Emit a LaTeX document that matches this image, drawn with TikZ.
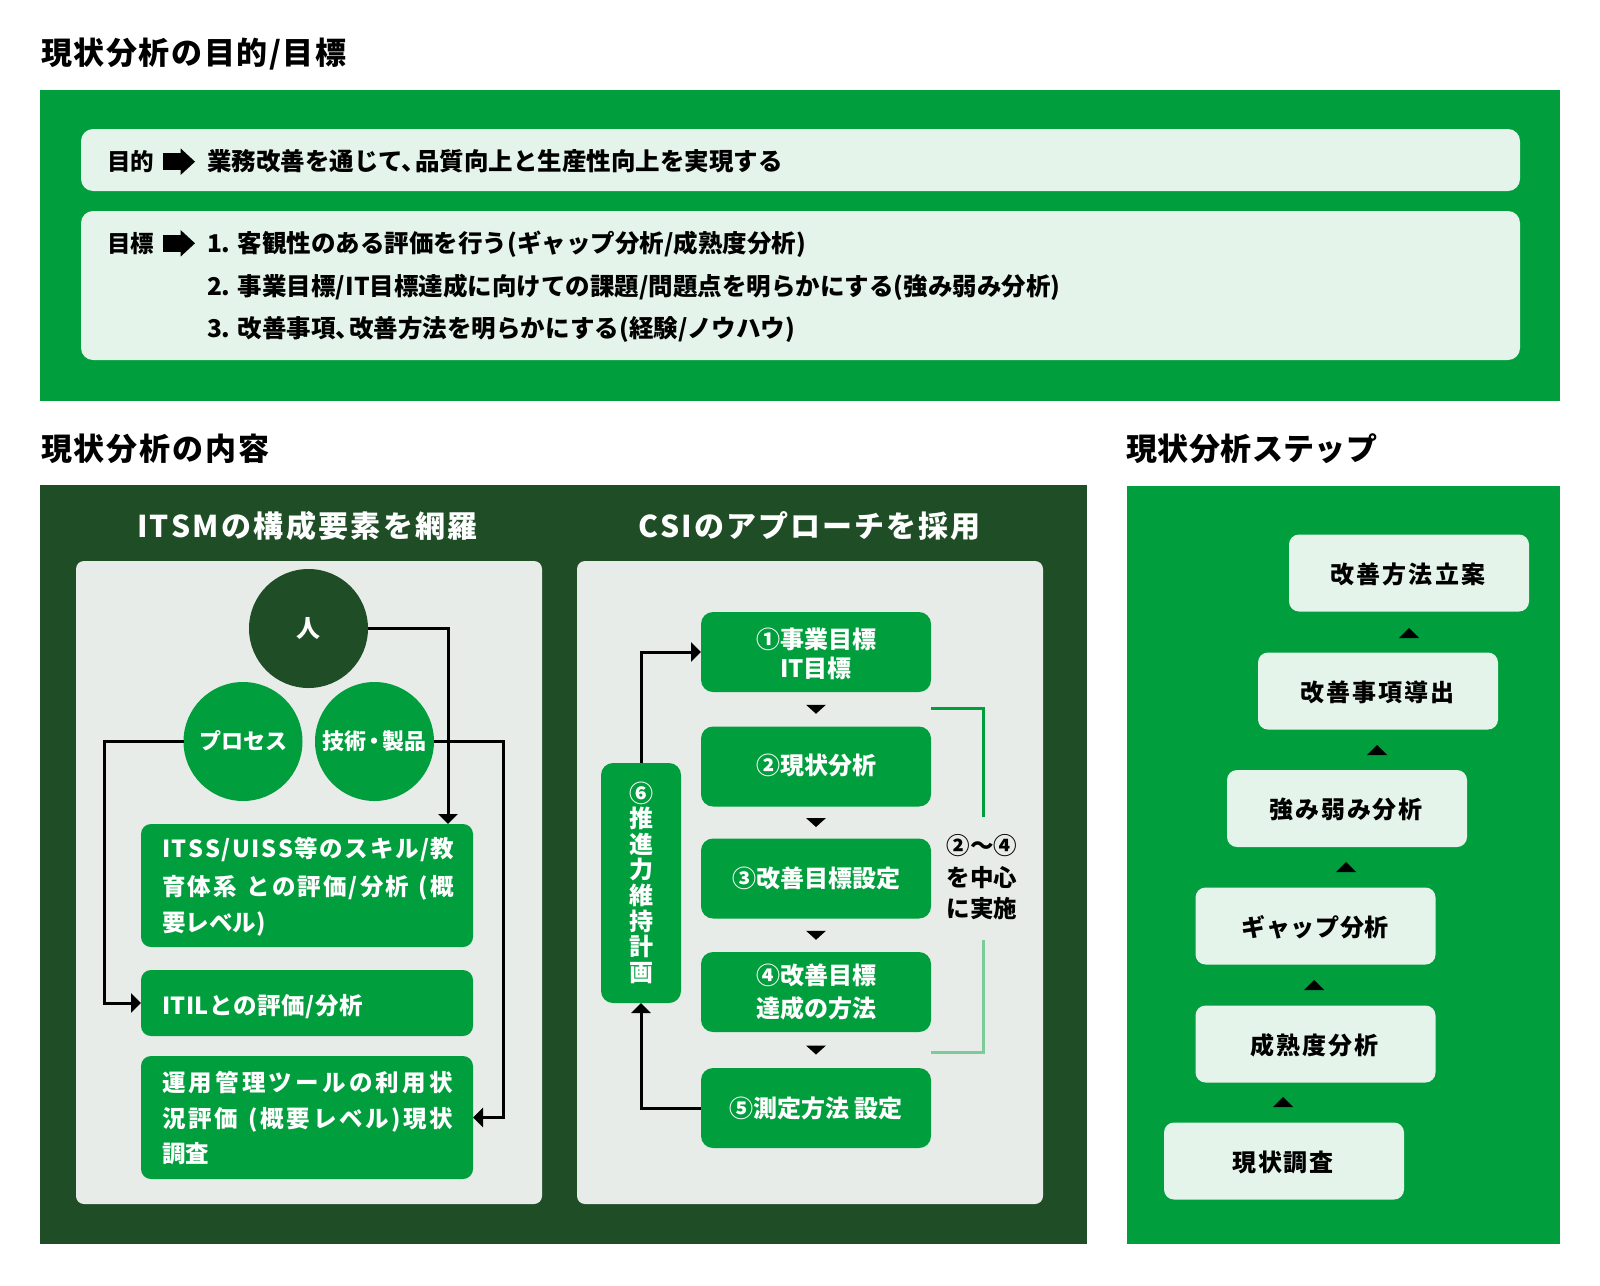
\documentclass[tikz,border=0pt]{standalone}
\usepackage{fontspec}
\setmainfont{Noto Sans CJK JP}
\usetikzlibrary{arrows.meta,calc}
\definecolor{gr}{HTML}{009E3D}
\definecolor{dg}{HTML}{1F4D26}
\definecolor{mint}{HTML}{E4F4EA}
\definecolor{pane}{HTML}{E8ECE9}
\definecolor{lgr}{HTML}{7DCB98}
\makeatletter
\def\sprchars#1#2\@nil{#1\ifx\relax#2\relax\else\hfil\sprchars#2\@nil\fi}
\newcommand\spr[2]{\makebox[#1pt][l]{\sprchars#2\@nil}}
\makeatother
\newcommand\fsz[1]{\fontsize{#1}{#1}\selectfont\bfseries}
\newcommand\hc{、\kern-0.45em}
\newcommand\barrow[1]{\fill (163,#1-8.3) rectangle (181.5,#1+8.3); \fill (180.5,#1-13.4) -- (195,#1) -- (180.5,#1+13.4) -- cycle;}
\begin{document}
\begin{tikzpicture}[x=1pt,y=-1pt,
  mintbox/.style={fill=mint, rounded corners=12pt, inner sep=0pt, outer sep=0pt},
  gbox/.style={fill=gr, rounded corners=10pt, inner sep=0pt, outer sep=0pt},
  stepbox/.style={fill=mint, rounded corners=10pt, inner sep=0pt, outer sep=0pt, minimum width=240pt, minimum height=77pt},
  csibox/.style={fill=gr, rounded corners=12pt, inner sep=0pt, outer sep=0pt, minimum width=230pt, minimum height=80pt},
  circ/.style={circle, minimum size=119pt, inner sep=0pt, outer sep=0pt},
  txt/.style={inner sep=0pt, outer sep=0pt, anchor=base},
  ltxt/.style={inner sep=0pt, outer sep=0pt, anchor=base west},
  conn/.style={line width=3pt, -{Triangle[width=19pt,length=10pt]}}]
\useasboundingbox[fill=white] (0,0) rectangle (1600,1285);

% ---------- top section
\node[ltxt, font=\fsz{31}] (t1) at (41,64.8) {\spr{307}{現状分析の目的/目標}};
\node[fill=gr, minimum width=1520pt, minimum height=311pt, inner sep=0pt] (topbox) at (800,245.5) {};
\node[mintbox, minimum width=1439pt, minimum height=62pt] (purp) at (800.5,160) {};
\node[mintbox, minimum width=1439pt, minimum height=149pt] (goal) at (800.5,285.5) {};
\node[ltxt, font=\fsz{23.5}] (pl) at (107,170.5) {目的};
\barrow{161.7}
\node[ltxt, font=\fsz{24.5}] (pt) at (207,170.8) {業務改善を通じて\hc 品質向上と生産性向上を実現する};
\node[ltxt, font=\fsz{23.5}] (gl) at (107,252) {目標};
\barrow{243.3}
\node[ltxt, font=\fsz{24.5}] (g1) at (207,252.3) {1. 客観性のある評価を行う(ギャップ分析/成熟度分析)};
\node[ltxt, font=\fsz{24.5}] (g2) at (207,295.8) {2. 事業目標/IT目標達成に向けての課題/問題点を明らかにする(強み弱み分析)};
\node[ltxt, font=\fsz{24.5}] (g3) at (207,337.3) {3. 改善事項\hc 改善方法を明らかにする(経験/ノウハウ)};

% ---------- section titles
\node[ltxt, font=\fsz{31}] (t2) at (41,460.8) {\spr{230}{現状分析の内容}};
\node[ltxt, font=\fsz{31}] (t3) at (1126,460.8) {\spr{252}{現状分析ステップ}};

% ---------- content box
\node[fill=dg, minimum width=1047pt, minimum height=759pt, inner sep=0pt] (dark) at (563.5,864.5) {};
\node[ltxt, font=\fsz{30}, text=white] (h1) at (137,537.4) {\spr{343}{ITSMの構成要素を網羅}};
\node[ltxt, font=\fsz{30}, text=white] (h2) at (638,537.4) {\spr{345}{CSIのアプローチを採用}};
\node[fill=pane, rounded corners=8pt, minimum width=466pt, minimum height=643pt, inner sep=0pt] (lpan) at (309,882.5) {};
\node[fill=pane, rounded corners=8pt, minimum width=466pt, minimum height=643pt, inner sep=0pt] (rpan) at (810,882.5) {};

% circles
\node[circ, fill=dg] (hito) at (308.5,628.5) {};
\node[circ, fill=gr] (proc) at (243,741.5) {};
\node[circ, fill=gr] (tech) at (374.5,741.5) {};
\node[txt, font=\fsz{24}, text=white] at (308.5,637.6) {人};
\node[txt, font=\fsz{22}, text=white] at (243,749.9) {プロセス};
\node[txt, font=\fsz{22}, text=white] at (374.5,749.9) {技術\kern-0.12em・\kern-0.12em製品};

% left boxes
\node[gbox, minimum width=332pt, minimum height=123pt] (itss) at (307,885.5) {};
\node[gbox, minimum width=332pt, minimum height=66pt] (itil) at (307,1003) {};
\node[gbox, minimum width=332pt, minimum height=123pt] (unyo) at (307,1117.5) {};
\begin{scope}[every node/.style={ltxt, font=\fsz{23.5}, text=white}]
\node at (162,857) {\spr{294}{ITSS/UISS等のスキル/教}};
\node at (162,895) {\spr{294}{育体系~との評価/分析~(概}};
\node at (162,931) {要レベル)};
\node at (162,1014) {\spr{201}{ITILとの評価/分析}};
\node at (162,1091) {\spr{294}{運用管理ツールの利用状}};
\node at (162,1127) {\spr{294}{況評価~(概要レベル)現状}};
\node at (162,1162) {調査};
\end{scope}
\draw[conn] (hito.east) -| ($(itss.north east)+(-25,0)$);
\draw[conn] (proc.west) -- ++(-79,0) |- (itil.west);
\draw[conn] (tech.east) -- ++(69,0) |- (unyo.east);

% CSI boxes
\node[csibox] (s1) at (816,652) {};
\node[csibox] (s2) at (816,766.5) {};
\node[csibox] (s3) at (816,878.5) {};
\node[csibox] (s4) at (816,992) {};
\node[csibox] (s5) at (816,1108) {};
\node[gbox, rounded corners=12pt, minimum width=80pt, minimum height=240pt] (s6) at (641,883) {};
\begin{scope}[every node/.style={txt, font=\fsz{24}, text=white}]
\node at (816,648) {①事業目標};
\node at (816,677) {IT目標};
\node at (816,774) {②現状分析};
\node at (816,887) {③改善目標設定};
\node at (816,984) {④改善目標};
\node at (816,1017) {達成の方法};
\node at (816,1117) {⑤測定方法 設定};
\foreach \c [count=\i from 0] in {⑥,推,進,力,維,持,計,画}
  \node at (641,802+25.6*\i) {\c};
\end{scope}
\foreach \a/\b in {s1/s2,s2/s3,s3/s4,s4/s5}
  \fill ($(\a.south)!0.5!(\b.north)$) +(-10,-4.5) -- +(10,-4.5) -- +(0,4.5) -- cycle;
\draw[conn] (s6.north) |- (s1.west);
\draw[conn] (s5.west) -| (s6.south);
\draw[gr, line width=3pt] (931,708) -- (983.5,708) -- (983.5,817);
\draw[lgr, line width=3pt] (983.5,940) -- (983.5,1052) -- (931,1052);
\begin{scope}[every node/.style={txt, font=\fsz{23.5}, text=black}]
\node at (982,854) {②〜④};
\node at (982,886) {を中心};
\node at (982,917) {に実施};
\end{scope}

% ---------- steps
\node[fill=gr, minimum width=433pt, minimum height=758pt, inner sep=0pt] (stepbg) at (1343.5,865) {};
\node[stepbox] (st1) at (1409,573) {};
\node[stepbox] (st2) at (1378,691) {};
\node[stepbox] (st3) at (1347,808.5) {};
\node[stepbox] (st4) at (1315.5,926) {};
\node[stepbox] (st5) at (1315.5,1044) {};
\node[stepbox] (st6) at (1284,1161) {};
\begin{scope}[every node/.style={txt, font=\fsz{24}, text=black}]
\node at (1409,583) {\spr{157}{改善方法立案}};
\node at (1378,701) {\spr{156}{改善事項導出}};
\node at (1347,818.5) {\spr{155}{強み弱み分析}};
\node at (1315.5,936) {\spr{148}{ギャップ分析}};
\node at (1315.5,1054) {\spr{131}{成熟度分析}};
\node at (1284,1171) {\spr{103}{現状調査}};
\end{scope}
\foreach \x/\y in {1409/633,1377/750,1346/867,1314/985,1283/1102}
  \fill (\x,\y-5) -- (\x+10,\y+5) -- (\x-10,\y+5) -- cycle;
\end{tikzpicture}
\end{document}
